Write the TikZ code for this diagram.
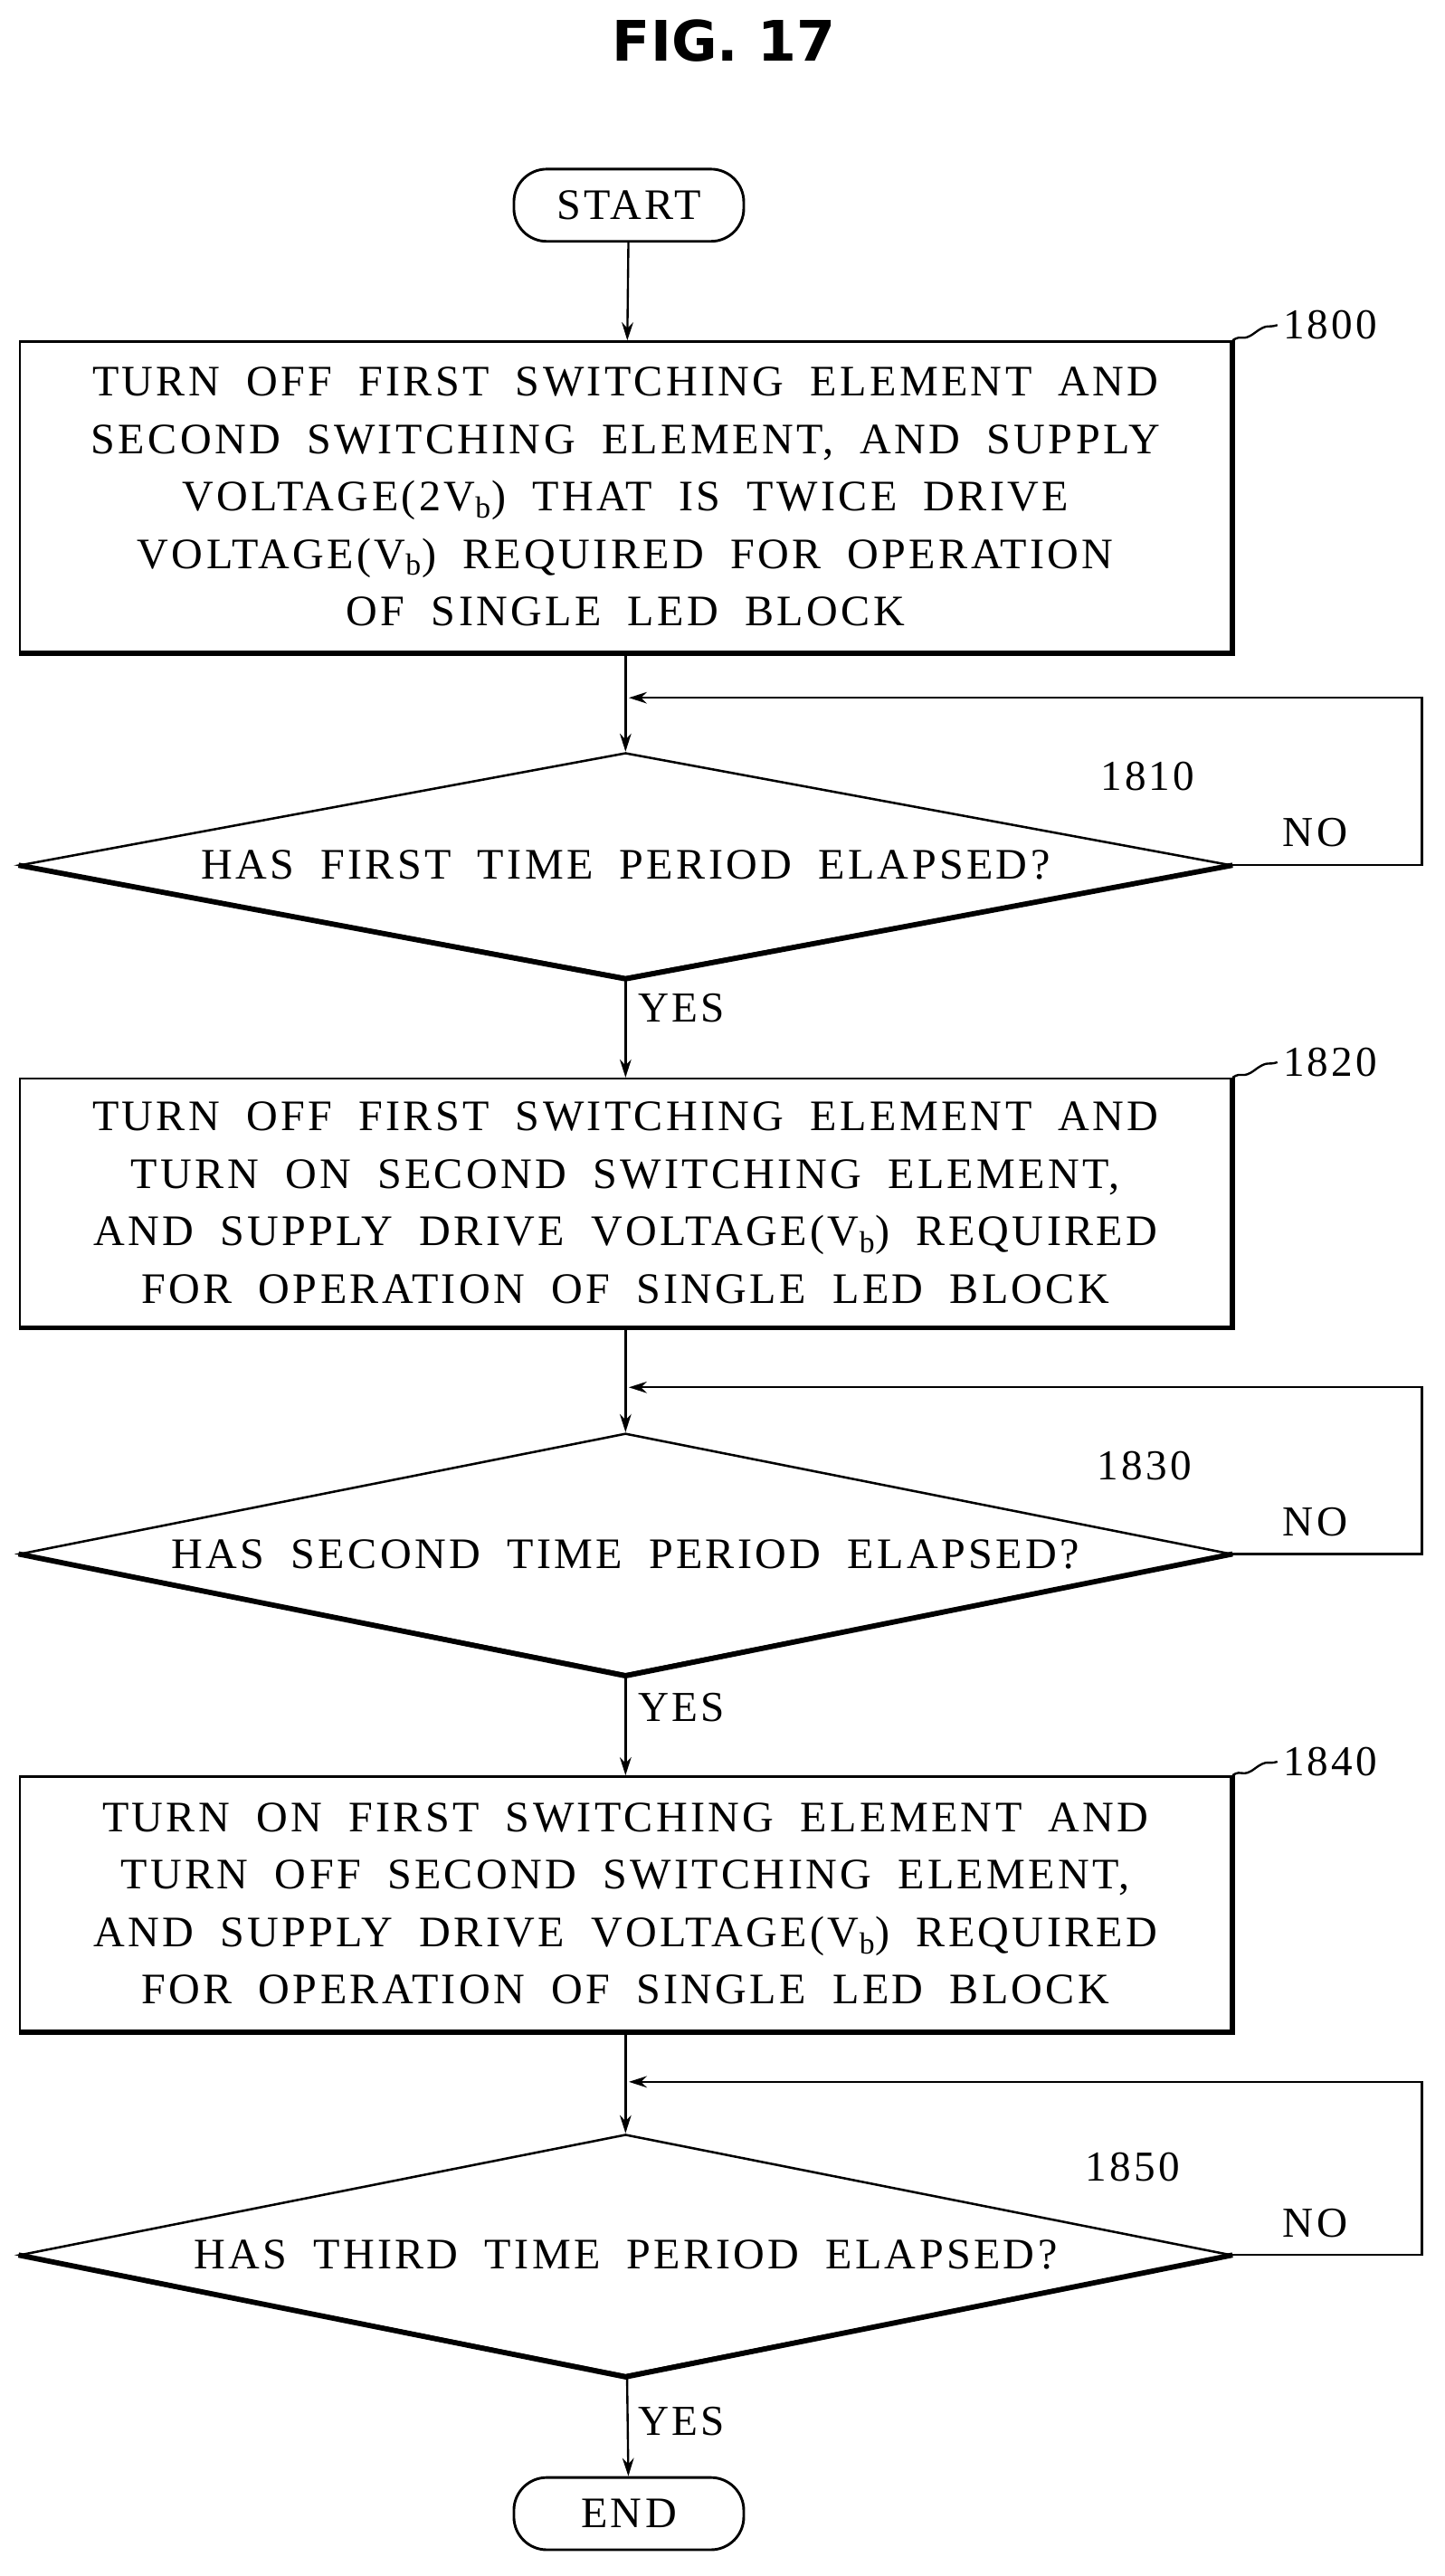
\documentclass[tikz,border=0pt]{standalone}
\usepackage{fontspec}
\setmainfont{Liberation Serif}[LetterSpace=7,WordSpace=1.9]
\newfontfamily\titlefont{DejaVu Sans}
\usetikzlibrary{shapes.geometric,arrows.meta,calc}
\begin{document}
\begin{tikzpicture}[x=1pt,y=-1pt,
  every node/.style={font=\fontsize{26.5}{35}\selectfont},
  proc/.style={draw,line width=1.4pt,minimum width=738pt,align=center,inner sep=0pt},
  dec/.style={draw,line width=1.4pt,diamond,minimum width=738pt,minimum height=137pt,aspect=5.4,inner sep=0pt},
  term/.style={draw,line width=1.6pt,rounded corners=20pt,minimum width=140pt,minimum height=44pt,inner sep=0pt},
  arr/.style={line width=1.3pt,-{Stealth[length=11pt,width=7pt]}},
  ln/.style={line width=1.3pt},
  shd/.style={line width=3.2pt},
  lbl/.style={font=\fontsize{26}{30}\selectfont}]
\useasboundingbox (0,0) rectangle (880,1569);
\node[font=\titlefont\bfseries\fontsize{34}{40}\selectfont] (title) at (441,25) {FIG. 17};
\node[term] (start) at (383,125) {START};
\node[proc,minimum height=189pt] (b1) at (381,302.5) {TURN OFF FIRST SWITCHING ELEMENT AND\\SECOND SWITCHING ELEMENT, AND SUPPLY\\VOLTAGE(2V\textsubscript{b}) THAT IS TWICE DRIVE\\VOLTAGE(V\textsubscript{b}) REQUIRED FOR OPERATION\\OF SINGLE LED BLOCK};
\node[dec] (d1) at (381,527) {};
\node at (381,527) {HAS FIRST TIME PERIOD ELAPSED?};
\node[proc,minimum height=151pt] (b2) at (381,732.5) {TURN OFF FIRST SWITCHING ELEMENT AND\\TURN ON SECOND SWITCHING ELEMENT,\\AND SUPPLY DRIVE VOLTAGE(V\textsubscript{b}) REQUIRED\\FOR OPERATION OF SINGLE LED BLOCK};
\node[dec,minimum height=147pt] (d2) at (381,946.5) {};
\node at (381,946.5) {HAS SECOND TIME PERIOD ELAPSED?};
\node[proc,minimum height=155pt] (b3) at (381,1159.5) {TURN ON FIRST SWITCHING ELEMENT AND\\TURN OFF SECOND SWITCHING ELEMENT,\\AND SUPPLY DRIVE VOLTAGE(V\textsubscript{b}) REQUIRED\\FOR OPERATION OF SINGLE LED BLOCK};
\node[dec,minimum height=147pt] (d3) at (381,1373.5) {};
\node at (381,1373.5) {HAS THIRD TIME PERIOD ELAPSED?};
\node[term] (end) at (383,1531) {END};
% shadows
\foreach \b in {b1,b2,b3}{\draw[shd] (\b.north east) -- (\b.south east) -- (\b.south west);}
\foreach \d in {d1,d2,d3}{\draw[shd] (\d.east) -- (\d.south) -- (\d.west);}
% flow
\draw[arr] (start) -- (b1);
\draw[arr] (b1) -- (d1);
\draw[arr] (d1) -- (b2);
\draw[arr] (b2) -- (d2);
\draw[arr] (d2) -- (b3);
\draw[arr] (b3) -- (d3);
\draw[arr] (d3) -- (end);
% loops
\coordinate (j1) at (383,425); \coordinate (j2) at (383,845); \coordinate (j3) at (383,1268);
\draw[arr] (d1.east) -- (866,527) -- (866,425) -- (j1);
\draw[arr] (d2.east) -- (866,946.5) -- (866,845) -- (j2);
\draw[arr] (d3.east) -- (866,1373.5) -- (866,1268) -- (j3);
\node[lbl] (n1) at (801,507) {NO};
\node[lbl] (n2) at (801,927) {NO};
\node[lbl] (n3) at (801,1354) {NO};
\node[lbl] (y1) at (415,614) {YES};
\node[lbl] (y2) at (415,1040) {YES};
\node[lbl] (y3) at (415,1475) {YES};
\node[lbl] (l1810) at (699,473) {1810};
\node[lbl] (l1830) at (697,893) {1830};
\node[lbl] (l1850) at (690,1320) {1850};
\node[lbl,anchor=west] (l1800) at (778,198) {1800};
\node[lbl,anchor=west] (l1820) at (778,647) {1820};
\node[lbl,anchor=west] (l1840) at (778,1073) {1840};
\foreach \b/\l in {b1/l1800,b2/l1820,b3/l1840}{
  \draw[ln] (\b.north east) .. controls +(6,-4) and +(-8,6) .. ($(\b.north east)!0.5!(\l.west)$) .. controls +(8,-6) and +(-6,2) .. (\l.west);}
\end{tikzpicture}
\end{document}
